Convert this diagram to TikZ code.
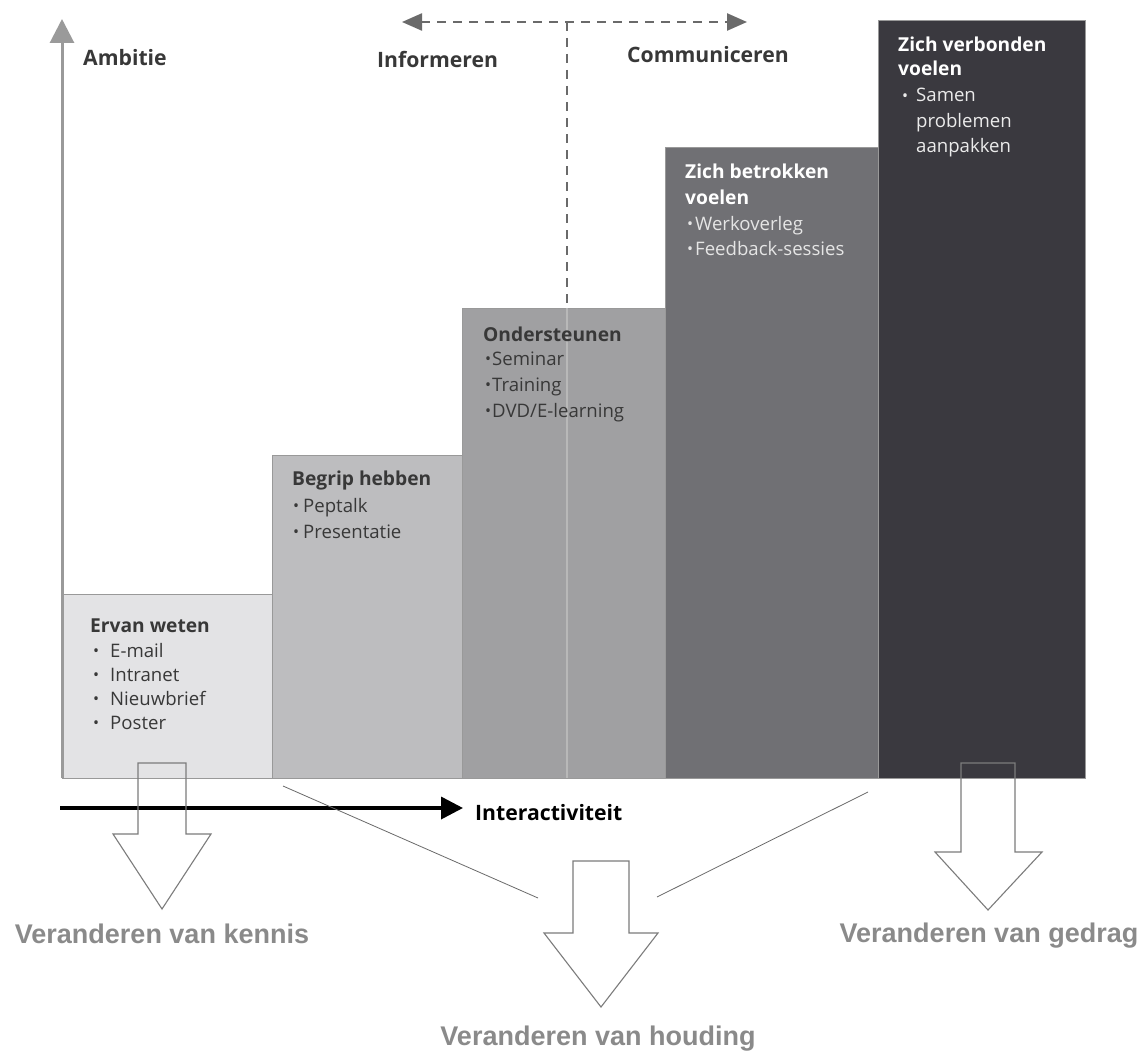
\documentclass[tikz,border=0pt]{standalone}
\usepackage{fontspec}
\setmainfont{Open Sans}
\newfontfamily\arialf{Liberation Sans}
\usetikzlibrary{arrows.meta}
\definecolor{cA}{HTML}{E3E3E5}
\definecolor{cB}{HTML}{BDBDBF}
\definecolor{cC}{HTML}{A0A0A2}
\definecolor{cD}{HTML}{707074}
\definecolor{cE}{HTML}{3A393F}
\definecolor{axisgray}{HTML}{9A9A9A}
\definecolor{dashgray}{HTML}{6A6A6A}
\definecolor{darktxt}{HTML}{383838}
\definecolor{lblgray}{HTML}{8A8A8A}
\definecolor{outlgray}{HTML}{7C7C7C}
\newcommand\bul[1]{\makebox[#1pt][l]{\raisebox{0.5pt}{\fontsize{16}{16}\selectfont•}}}
\newcommand\hollowarr[8]{%
  \draw[hollow] (#1,#3) -- (#2,#3) -- (#2,#4) -- (#6,#4) -- (#7,#8) -- (#5,#4) -- (#1,#4) -- cycle;}
\begin{document}
\begin{tikzpicture}[x=1pt,y=-1pt,
  stepbox/.style={draw=black!40, line width=0.8pt, inner sep=0pt, outer sep=0pt, anchor=south west},
  ttl/.style={anchor=base west, inner sep=0pt, font=\fontsize{19.2}{22}\bfseries\selectfont, text=darktxt},
  itm/.style={anchor=base west, inner sep=0pt, font=\fontsize{18.6}{22}\selectfont, text=darktxt},
  toplbl/.style={anchor=base west, inner sep=0pt, font=\fontsize{21.2}{24}\bfseries\selectfont, text=darktxt},
  lbl/.style={anchor=base, inner sep=0pt, font=\arialf\bfseries\fontsize{27}{30}\selectfont, text=lblgray},
  hollow/.style={draw=outlgray, line width=1.1pt, line join=miter},
  thinline/.style={draw=dashgray, line width=0.8pt}
]
\useasboundingbox (0,0) rectangle (1146,1057);
\fill[white] (0,0) rectangle (1146,1057);

% steps
\node[stepbox, fill=cA, minimum width=210pt, minimum height=184pt] (b1) at (62,778) {};
\node[stepbox, fill=cB, minimum width=190pt, minimum height=323pt] (b2) at (272,778) {};
\node[stepbox, fill=cC, minimum width=203pt, minimum height=470pt] (b3) at (462,778) {};
\node[stepbox, fill=cD, minimum width=213pt, minimum height=631pt] (b4) at (665,778) {};
\node[stepbox, fill=cE, minimum width=207pt, minimum height=758pt] (b5) at (878,778) {};

% dashed informeren / communiceren arrows
\coordinate (dl) at (402,22);
\coordinate (dr) at (747,22);
\coordinate (dm) at (567,22);
\draw[dashgray, line width=2.4pt, dash pattern=on 9pt off 7pt, {Triangle[length=20pt,width=17pt]}-{Triangle[length=20pt,width=17pt]}] (dl) -- (dr);
\draw[dashgray, line width=2.4pt, dash pattern=on 9pt off 7pt] (dm) -- (dm |- b3.north);
\draw[white!72!black, line width=1.6pt] (dm |- b3.north) -- (dm |- b3.south);

% axes
\coordinate (yo) at (62,778);
\coordinate (yt) at (62,19);
\draw[axisgray, line width=3pt, -{Triangle[length=24pt,width=24pt]}] (yo) -- (yt);
\coordinate (xo) at (60,808);
\coordinate (xt) at (463,808);
\draw[black, line width=3.6pt, -{Triangle[length=22pt,width=22pt]}] (xo) -- (xt);

% axis labels
\node[toplbl] (ambitie) at (83,66) {Ambitie};
\node[toplbl] (inform) at (377,68) {Informeren};
\node[toplbl] (commun) at (627,63) {Communiceren};
\node[toplbl, text=black] (interact) at (475,820) {Interactiviteit};

% box 1
\node[ttl] (t1) at (90,632) {Ervan weten};
\node[itm] (i11) at (93,657) {\bul{17}E-mail};
\node[itm] (i12) at (93,681) {\bul{17}Intranet};
\node[itm] (i13) at (93,705) {\bul{17}Nieuwbrief};
\node[itm] (i14) at (93,729) {\bul{17}Poster};
% box 2
\node[ttl] (t2) at (292,485) {Begrip hebben};
\node[itm] (i21) at (293,512) {\bul{10}Peptalk};
\node[itm] (i22) at (293,538) {\bul{10}Presentatie};
% box 3
\node[ttl] (t3) at (483,341) {Ondersteunen};
\node[itm] (i31) at (485,365) {\bul{7}Seminar};
\node[itm] (i32) at (485,391) {\bul{7}Training};
\node[itm] (i33) at (485,417) {\bul{7}DVD/E-learning};
% box 4
\node[ttl, text=white] (t4) at (685,178) {Zich betrokken};
\node[ttl, text=white] (t4b) at (685,204) {voelen};
\node[itm, text=white!90!black] (i41) at (687,230) {\bul{8}Werkoverleg};
\node[itm, text=white!90!black] (i42) at (687,255) {\bul{8}Feedback-sessies};
% box 5
\node[ttl, text=white] (t5) at (898,52) {Zich verbonden};
\node[ttl, text=white] (t5b) at (898,76) {voelen};
\node[itm, text=white!92!black] (i51) at (902,102) {\bul{14}Samen};
\node[itm, text=white!92!black] (i52) at (916,127) {problemen};
\node[itm, text=white!92!black] (i53) at (916,152) {aanpakken};

% hollow arrows
\hollowarr{138}{186}{763}{834}{113}{211}{162}{909}
\hollowarr{573}{629}{861}{933}{544}{658}{601}{1007}
\hollowarr{961}{1015}{763}{852}{935}{1042}{988}{910}

% connecting lines
\coordinate (d1a) at (283,786);
\coordinate (d1b) at (538,898);
\coordinate (d2a) at (868,792);
\coordinate (d2b) at (657,897);
\draw[thinline] (d1a) -- (d1b);
\draw[thinline] (d2a) -- (d2b);

% change labels
\node[lbl] (lk) at (162,943) {Veranderen van kennis};
\node[lbl] (lh) at (598,1045) {Veranderen van houding};
\node[lbl] (lg) at (989,942) {Veranderen van gedrag};
\end{tikzpicture}
\end{document}
